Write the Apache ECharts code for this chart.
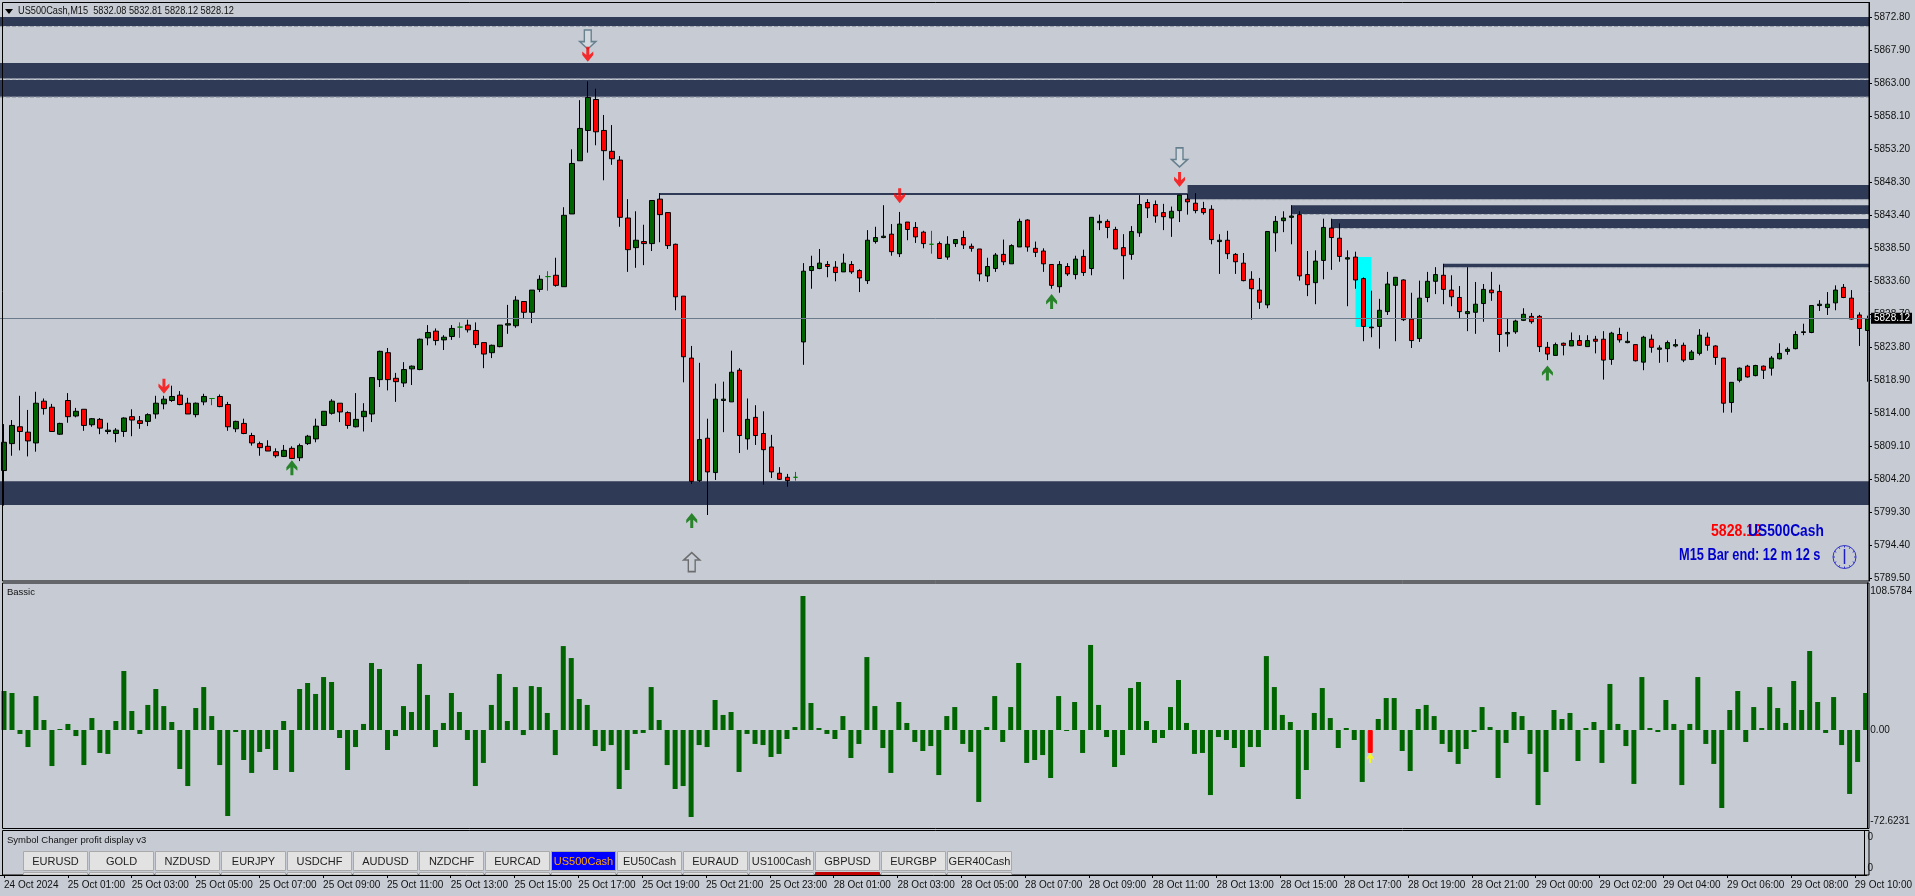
<!DOCTYPE html>
<html><head><meta charset="utf-8">
<style>html,body{margin:0;padding:0;background:#c7ccd4;overflow:hidden}#c{width:1915px;height:896px}</style>
<script src="https://cdn.jsdelivr.net/npm/echarts@6/dist/echarts.min.js"></script>
</head><body><div id="c"></div>
<script>
// [open, close, low, high] per 15-minute bar
const ohlc = [
[5805.5,5809.7,5800.3,5812.4],[5809.5,5812.2,5807.7,5813.0],[5812.0,5811.3,5808.5,5816.6],[5811.2,5809.9,5807.6,5814.5],
[5809.6,5815.5,5808.3,5817.2],[5815.8,5814.7,5813.8,5816.2],[5814.9,5811.3,5811.3,5815.4],[5810.9,5812.5,5810.8,5812.6],
[5815.9,5813.5,5812.6,5817.0],[5813.6,5814.3,5813.4,5814.8],[5814.6,5812.2,5811.4,5814.6],[5812.3,5813.2,5812.0,5813.3],
[5813.1,5811.8,5810.9,5813.3],[5811.3,5811.5,5810.9,5812.6],[5811.0,5811.5,5809.7,5811.8],[5811.3,5813.3,5810.5,5813.4],
[5813.5,5813.0,5810.6,5814.6],[5812.9,5812.5,5811.7,5813.6],[5812.8,5813.8,5812.1,5814.0],[5813.9,5815.5,5813.2,5816.6],
[5815.4,5816.1,5814.6,5816.6],[5815.9,5816.5,5815.7,5818.1],[5816.7,5815.3,5815.2,5817.3],[5815.5,5813.9,5813.9,5816.3],
[5813.8,5815.5,5813.4,5815.6],[5815.7,5816.5,5815.2,5816.9],[5816.2,5816.2,5815.2,5816.2],[5816.5,5815.0,5814.9,5816.8],
[5815.3,5812.0,5811.4,5815.7],[5811.7,5812.8,5811.2,5812.9],[5812.5,5811.0,5810.9,5813.2],[5810.7,5809.6,5809.2,5811.1],
[5809.5,5808.9,5807.7,5809.8],[5809.1,5808.4,5808.4,5810.0],[5808.3,5807.7,5807.4,5808.8],[5807.6,5808.5,5807.5,5809.3],
[5808.8,5807.3,5807.2,5809.1],[5807.4,5809.2,5806.9,5809.5],[5809.5,5810.6,5809.3,5810.8],[5810.2,5812.1,5809.7,5813.2],
[5812.2,5814.3,5812.1,5814.3],[5814.0,5815.8,5813.8,5816.1],[5815.5,5814.2,5812.7,5815.5],[5814.1,5812.2,5811.7,5814.3],
[5812.0,5813.1,5811.9,5817.0],[5813.5,5814.3,5811.3,5815.5],[5813.9,5819.3,5812.7,5819.3],[5819.0,5823.2,5817.9,5823.3],
[5823.0,5819.0,5817.4,5823.7],[5819.2,5818.7,5815.7,5820.0],[5818.5,5820.5,5817.9,5821.6],[5820.6,5821.0,5818.2,5821.1],
[5820.5,5825.0,5820.4,5825.1],[5825.2,5826.0,5824.1,5827.1],[5826.2,5824.8,5824.1,5826.6],[5824.9,5825.3,5823.4,5825.6],
[5825.4,5826.6,5824.9,5827.1],[5826.8,5826.8,5825.2,5827.5],[5827.1,5826.4,5826.0,5827.9],[5826.3,5824.2,5823.7,5827.5],
[5824.5,5822.8,5820.7,5824.5],[5823.0,5824.1,5822.2,5824.2],[5823.9,5827.1,5823.8,5827.1],[5827.1,5827.3,5825.8,5830.1],
[5827.0,5830.8,5826.7,5831.4],[5830.6,5829.0,5828.0,5830.6],[5829.0,5832.3,5827.4,5832.3],[5832.4,5833.9,5832.0,5834.5],
[5834.3,5834.3,5832.2,5835.1],[5834.5,5833.0,5832.8,5837.1],[5832.8,5843.4,5832.8,5844.6],[5843.6,5851.1,5843.6,5853.2],
[5851.5,5856.3,5851.5,5860.5],[5856.0,5860.9,5852.7,5863.3],[5860.6,5855.8,5853.8,5862.2],[5856.0,5853.0,5848.6,5858.3],
[5852.9,5851.8,5850.9,5856.8],[5851.6,5843.1,5841.7,5852.2],[5843.0,5838.3,5835.0,5845.8],[5838.6,5839.7,5835.6,5844.0],
[5839.5,5839.2,5836.0,5842.0],[5839.2,5845.6,5838.1,5845.6],[5845.8,5843.5,5839.4,5846.7],[5843.8,5838.9,5838.4,5843.8],
[5839.1,5831.3,5829.3,5839.2],[5831.4,5822.4,5818.6,5831.4],[5822.2,5803.9,5803.5,5824.0],[5804.0,5810.1,5803.8,5821.5],
[5810.3,5805.3,5798.9,5813.2],[5805.2,5816.1,5804.1,5818.4],[5815.9,5816.1,5811.2,5818.7],[5815.7,5820.1,5815.7,5823.3],
[5820.4,5810.7,5808.1,5820.7],[5810.2,5813.1,5808.6,5816.2],[5813.4,5810.7,5809.3,5815.2],[5811.0,5808.6,5803.4,5814.3],
[5809.0,5805.3,5804.4,5810.8],[5805.1,5804.2,5804.1,5806.0],[5804.5,5804.0,5803.1,5805.0],[5804.5,5804.5,5804.0,5805.3],
[5824.6,5835.1,5821.2,5836.3],[5835.2,5835.8,5832.5,5837.4],[5835.5,5836.3,5835.4,5838.4],[5836.1,5835.8,5834.2,5836.6],
[5835.7,5834.9,5833.6,5836.6],[5835.0,5836.3,5835.0,5837.7],[5836.1,5835.0,5834.7,5836.6],[5835.2,5834.1,5832.0,5835.4],
[5833.7,5839.7,5833.2,5841.2],[5839.5,5840.1,5839.2,5841.7],[5840.1,5840.3,5840.0,5844.9],[5840.6,5838.0,5837.4,5842.1],
[5837.7,5842.1,5837.2,5843.9],[5842.4,5841.3,5839.7,5842.4],[5841.6,5840.2,5839.3,5842.4],[5840.9,5839.2,5838.5,5841.1],
[5839.1,5839.1,5837.7,5841.1],[5839.2,5837.0,5837.0,5839.5],[5837.2,5839.1,5836.8,5840.3],[5839.2,5839.8,5838.7,5839.8],
[5840.1,5839.0,5838.4,5841.1],[5838.8,5838.5,5838.0,5839.2],[5838.4,5834.7,5833.6,5838.4],[5834.4,5835.8,5833.5,5837.1],
[5835.5,5837.5,5835.0,5837.8],[5837.6,5836.5,5836.0,5839.8],[5836.2,5838.9,5836.2,5839.1],[5838.7,5842.5,5838.7,5842.9],
[5842.7,5838.7,5838.0,5842.8],[5838.5,5837.9,5837.2,5839.5],[5838.1,5836.2,5835.0,5838.5],[5836.1,5833.0,5832.5,5836.1],
[5832.8,5836.1,5831.9,5836.6],[5835.8,5834.7,5834.4,5836.3],[5834.6,5836.9,5833.9,5837.4],[5837.3,5834.9,5834.4,5838.3],
[5835.5,5843.1,5834.5,5843.1],[5842.3,5842.5,5841.2,5843.5],[5842.5,5841.6,5840.0,5842.8],[5841.3,5838.4,5838.4,5841.7],
[5838.6,5837.4,5833.9,5840.6],[5837.6,5841.0,5836.8,5841.8],[5840.8,5845.0,5840.2,5846.4],[5845.3,5844.5,5843.0,5845.8],
[5845.0,5843.3,5842.3,5845.6],[5843.8,5843.2,5841.2,5845.1],[5843.0,5844.0,5840.2,5844.7],[5844.1,5846.4,5842.4,5846.4],
[5845.8,5845.4,5843.5,5846.6],[5845.2,5844.1,5843.7,5846.7],[5844.4,5843.8,5843.5,5845.4],[5844.3,5839.8,5839.1,5844.9],
[5839.5,5839.7,5834.7,5840.6],[5839.7,5837.7,5836.9,5841.1],[5837.6,5836.5,5834.7,5837.8],[5836.3,5833.7,5833.6,5837.8],
[5833.9,5832.5,5827.9,5835.1],[5832.3,5830.5,5829.5,5834.1],[5830.1,5841.0,5829.6,5841.0],[5840.8,5842.5,5838.0,5843.3],
[5842.6,5843.0,5840.9,5844.0],[5843.1,5843.3,5839.1,5844.9],[5843.5,5834.4,5833.7,5844.0],[5834.6,5833.1,5831.4,5838.1],
[5833.4,5836.6,5830.2,5838.2],[5836.7,5841.6,5833.9,5842.9],[5841.5,5840.1,5835.3,5842.9],[5840.0,5837.3,5836.5,5842.2],
[5836.9,5837.1,5829.9,5838.2],[5837.2,5833.8,5832.5,5838.0],[5834.0,5826.9,5824.7,5834.2],[5826.7,5826.8,5825.3,5832.2],
[5826.9,5829.3,5823.6,5831.0],[5829.1,5833.2,5828.6,5835.0],[5833.0,5834.2,5824.7,5834.2],[5833.8,5827.9,5827.7,5833.9],
[5828.0,5824.8,5823.7,5831.9],[5825.1,5831.1,5824.6,5833.7],[5831.2,5833.6,5830.5,5835.0],[5833.6,5834.6,5831.7,5835.7],
[5834.5,5832.4,5830.2,5836.2],[5832.3,5831.3,5829.9,5834.5],[5831.2,5829.1,5828.0,5832.9],[5828.8,5829.1,5826.2,5835.7],
[5829.0,5830.2,5825.8,5833.5],[5830.3,5832.4,5827.6,5833.2],[5832.3,5831.9,5830.7,5835.0],[5832.1,5825.7,5823.1,5833.1],
[5825.8,5826.0,5823.9,5828.0],[5826.1,5827.7,5825.8,5827.9],[5827.8,5828.7,5827.7,5829.6],[5828.4,5827.6,5827.3,5828.9],
[5828.4,5823.9,5823.1,5828.6],[5823.8,5822.8,5821.9,5824.6],[5822.6,5824.2,5822.6,5824.5],[5824.4,5824.1,5822.6,5824.5],
[5824.0,5824.8,5824.0,5826.0],[5824.8,5824.1,5824.0,5825.6],[5823.9,5824.8,5823.9,5825.6],[5825.0,5824.7,5822.9,5825.5],
[5825.0,5821.9,5819.0,5826.2],[5822.0,5825.9,5821.2,5826.1],[5825.7,5824.9,5824.5,5826.7],[5824.5,5824.7,5824.4,5826.1],
[5824.2,5821.8,5821.7,5824.2],[5821.6,5825.3,5820.4,5825.5],[5825.0,5823.8,5823.0,5825.7],[5823.5,5823.7,5821.5,5824.1],
[5823.6,5824.5,5821.6,5824.8],[5824.0,5824.2,5823.8,5825.0],[5824.1,5821.9,5821.6,5824.5],[5822.0,5823.1,5821.9,5823.4],
[5822.9,5825.6,5822.6,5826.5],[5825.3,5824.1,5823.3,5826.0],[5824.0,5822.3,5821.2,5824.1],[5822.2,5815.5,5814.1,5822.2],
[5815.6,5818.6,5814.1,5818.6],[5818.9,5820.7,5818.6,5820.8],[5821.0,5819.4,5819.3,5821.2],[5819.6,5821.1,5819.5,5821.2],
[5821.0,5820.4,5819.1,5821.1],[5820.7,5822.2,5819.6,5822.5],[5822.1,5822.9,5822.0,5824.4],[5823.2,5823.5,5822.7,5823.8],
[5823.6,5825.7,5823.5,5826.2],[5826.0,5826.1,5825.6,5827.3],[5826.0,5830.0,5825.9,5830.0],[5830.0,5830.2,5829.2,5830.8],
[5829.7,5830.2,5828.6,5832.0],[5830.4,5832.3,5829.3,5833.0],[5832.7,5831.2,5831.1,5833.2],[5831.1,5828.0,5827.9,5832.3],
[5828.6,5826.6,5824.0,5829.0],[5826.3,5828.0,5818.7,5828.5]
];
const crossBars = [26,57,68,99,116];
const histValues = [
31.6,30.0,-3.2,-13.8,27.5,8.1,-29.2,0.8,4.9,-4.9,-28.4,9.7,-18.6,-19.4,7.3,47.8,15.4,-3.2,20.3,33.2,19.4,6.5,-31.6,-45.4,17.8,34.8,11.3,-28.4,-69.7,-1.6,
-24.3,-34.8,-17.8,-15.4,-32.4,7.3,-34.0,33.2,38.1,29.2,42.9,38.9,-6.5,-32.4,-13.8,4.9,54.3,49.4,-16.2,-4.9,19.4,14.6,53.5,28.4,-13.8,5.7,30.0,14.6,-8.1,-45.4,
-26.7,20.3,45.4,7.3,34.8,-4.1,35.6,34.8,13.8,-20.3,68.0,58.3,25.1,20.3,-13.0,-17.0,-12.2,-47.8,-32.4,-3.2,
-2.4,34.8,8.1,-28.4,-47.8,-45.4,-70.5,-12.2,-13.8,24.3,12.2,14.6,-34.0,-3.2,-11.3,-12.2,-21.9,-19.4,-7.3,2.4,108.5,21.9,1.6,-3.2,-7.3,11.3,-22.7,-11.3,59.1,19.4,
-14.6,-34.8,22.7,5.7,-9.7,-17.0,-13.0,-36.5,11.3,18.6,-11.3,-17.8,-58.3,2.4,27.5,-9.7,18.6,54.3,-26.7,-24.3,-20.3,-38.9,27.5,-0.8,22.7,-18.6,68.9,20.3,-5.7,-30.0,
-20.3,34.0,38.9,7.3,-10.5,-6.5,18.6,40.5,5.7,-19.4,-18.6,-52.7,-5.7,-8.1,-14.6,-30.0,-13.8,-13.8,59.9,34.8,
12.2,6.5,-55.9,-32.4,13.8,34.0,9.7,-14.6,1.6,-8.1,-42.1,-18.6,8.9,25.9,25.9,-17.0,-33.2,17.0,20.3,11.3,-11.3,-17.8,-27.5,-15.4,-1.6,18.6,2.4,-38.9,-10.5,14.6,
11.3,-19.4,-60.8,-34.0,16.2,8.9,13.8,-25.1,1.6,6.5,-26.7,37.3,4.9,-13.0,-43.7,42.9,1.6,-1.6,24.3,4.9,-44.6,4.9,42.9,-11.3,-27.5,-63.2,16.2,31.6,-9.7,18.6,
1.6,34.8,17.8,5.7,39.7,16.2,64.0,22.7,-2.4,26.7,-12.2,-51.8,-25.9,30.0
];
const hotBar = 171;
const lastPrice = 5828.12;
const priceTicks = [5872.8,5867.9,5863.0,5858.1,5853.2,5848.3,5843.4,5838.5,5833.6,5828.7,5823.8,5818.9,5814.0,5809.1,5804.2,5799.3,5794.4,5789.5];
const timeLabels = ['24 Oct 2024','25 Oct 01:00','25 Oct 03:00','25 Oct 05:00','25 Oct 07:00','25 Oct 09:00','25 Oct 11:00','25 Oct 13:00','25 Oct 15:00','25 Oct 17:00','25 Oct 19:00','25 Oct 21:00','25 Oct 23:00','28 Oct 01:00','28 Oct 03:00','28 Oct 05:00','28 Oct 07:00','28 Oct 09:00','28 Oct 11:00','28 Oct 13:00','28 Oct 15:00','28 Oct 17:00','28 Oct 19:00','28 Oct 21:00','29 Oct 00:00','29 Oct 02:00','29 Oct 04:00','29 Oct 06:00','29 Oct 08:00','29 Oct 10:00'];
// [firstBar (-1 = from left edge), lastBar (-1 = to right edge), topPrice, bottomPrice, dashed lower edge]
const darkZones = [
[-1,-1,5872.85,5871.5,1],[-1,-1,5866.0,5863.7,1],[-1,-1,5863.5,5861.0,1],[-1,-1,5803.9,5800.4,0],
[148,-1,5847.9,5845.8,1],[161,-1,5844.9,5843.6,1],[166,-1,5842.85,5841.5,1],[180,-1,5836.2,5835.7,1],[82,148,5846.7,5846.4,0]
];
const cyanZones = [[169,171,5837.2,5826.8,0]];
const redDownArrows = [[73,5867.3],[20,5818.0],[112,5846.3],[147,5848.7]];
const greenUpArrows = [[36,5805.9],[131,5830.6],[86,5798.1],[193,5820.0]];
const hollowDownArrows = [[73,5869.5],[147,5852.0]];
const hollowUpArrows = [[86,5791.9]];
const yellowUpArrows = [[171,-22.7]];
const histTickValues = [112.8,0,-74.3];
const histTickLabels = ['108.5784','0.00','-72.6231'];
const lowerTickValues = [0.854,0.157];
const buttonLabels = ['EURUSD','GOLD','NZDUSD','EURJPY','USDCHF','AUDUSD','NZDCHF','EURCAD','US500Cash','EU50Cash','EURAUD','US100Cash','GBPUSD','EURGBP','GER40Cash'];
const activeButton = 'US500Cash', flaggedButton = 'GBPUSD';

const BG='#c7ccd4', NAVY='#2f3a56', GREEN='#006400', RED='#ff0000', FONT='"Liberation Sans", Arial, sans-serif';
const cats = ohlc.map((_,i)=>String(i));
const DOWN='path://M4,0L7,0L7,7L11,4L11,7L5.5,13L0,7L0,4L4,7Z';
const UP='path://M4,13L7,13L7,6L11,9L11,6L5.5,0L0,6L0,9L4,6Z';
const HDOWN='path://M4,0L10,0L10,11L14,11L7,18L0,11L4,11Z';
const HUP='path://M4,18L10,18L10,7L14,7L7,0L0,7L4,7Z';

function zoneSeries(rows,color){
  return {type:'custom',xAxisIndex:0,yAxisIndex:0,z:1,silent:true,data:rows.map(r=>[Math.max(r[0],0),r[2]]),
    encode:{x:0,y:1},
    renderItem(params,api){
      const r=rows[params.dataIndex], cs=params.coordSys;
      const x0=r[0]<0?cs.x:api.coord([r[0],r[2]])[0];
      const x1=r[1]<0?cs.x+cs.width:api.coord([r[1],r[2]])[0];
      const y0=api.coord([0,r[2]])[1], y1=api.coord([0,r[3]])[1];
      const children=[{type:'rect',shape:{x:x0,y:y0,width:x1-x0,height:y1-y0},style:{fill:color}}];
      if(r[4]) children.push({type:'line',shape:{x1:x0,y1:y1+0.5,x2:x1,y2:y1+0.5},style:{stroke:'#9aa0aa',lineWidth:1,lineDash:[4,2]}});
      return {type:'group',children};
    }};
}
function arrows(rows,sym,size,style,xi,yi){
  return {type:'scatter',xAxisIndex:xi||0,yAxisIndex:yi||0,z:6,silent:true,symbol:sym,symbolSize:size,symbolKeepAspect:false,itemStyle:style,data:rows,emphasis:{disabled:true}};
}
const axisTxt={color:'#111',fontFamily:FONT,fontSize:10};
const GRID_L=-0.7, GRID_W=1872;
const priceLabelValues=priceTicks.concat([lastPrice]);
const option={
  animation:false,backgroundColor:BG,
  grid:[
    {left:GRID_L,width:GRID_W,top:2.5,height:578.5},
    {left:GRID_L,width:GRID_W,top:583,height:245},
    {left:GRID_L,width:GRID_W,top:830.5,height:44.5}
  ],
  xAxis:[0,1,2].map(g=>({type:'category',gridIndex:g,data:cats,boundaryGap:true,z:10,
    show:g===2,
    axisLine:{lineStyle:{color:'#000',width:1}},
    axisTick:{show:true,alignWithLabel:true,interval:7,length:3,lineStyle:{color:'#000'}},
    axisLabel:{interval:7,align:'left',margin:5,color:'#111',fontFamily:FONT,fontSize:10,hideOverlap:false,
      formatter:(v)=>{const i=+v;return i%8===0?timeLabels[i/8]:'';}},
    splitLine:{show:false}})),
  yAxis:[
    {type:'value',gridIndex:0,position:'right',offset:-2.3,min:5789.1,max:5875.0,z:10,
     axisLine:{show:true,lineStyle:{color:'#000',width:1}},splitLine:{show:false},
     axisTick:{show:true,length:3,inside:false,customValues:priceTicks,lineStyle:{color:'#000'}},
     axisLabel:{...axisTxt,margin:5,customValues:priceLabelValues,
       formatter:v=>v===lastPrice?'{last|'+v.toFixed(2)+'}':v.toFixed(2),
       rich:{last:{color:'#fff',fontFamily:FONT,fontSize:10}}}},
    {type:'value',gridIndex:1,position:'right',offset:-2.3,min:-79.4,max:119.1,z:10,
     axisLine:{show:true,lineStyle:{color:'#000',width:1}},splitLine:{show:false},axisTick:{show:false},
     axisLabel:{...axisTxt,margin:3,customValues:histTickValues,formatter:v=>histTickLabels[histTickValues.indexOf(v)]}},
    {type:'value',gridIndex:2,position:'right',offset:-2.3,min:0,max:1,z:10,
     axisLine:{show:true,lineStyle:{color:'#000',width:1}},splitLine:{show:false},axisTick:{show:false},
     axisLabel:{...axisTxt,margin:3,customValues:lowerTickValues,formatter:()=>'0'}}
  ],
  series:[
    zoneSeries(darkZones,NAVY),
    zoneSeries(cyanZones,'#00ffff'),
    {type:'candlestick',xAxisIndex:0,yAxisIndex:0,z:2,silent:true,barWidth:5,
     itemStyle:{color:GREEN,color0:RED,borderColor:'#000',borderColor0:'#000',borderWidth:1},
     data:ohlc.map((v,i)=>crossBars.includes(i)?{value:v,itemStyle:{borderColor:'#008000',borderColor0:'#008000',color:'#008000',color0:'#008000'}}:v),
     markLine:{silent:true,symbol:'none',animation:false,z:5,precision:2,
       lineStyle:{color:'#6c7b8b',width:1,type:'solid'},label:{show:false},
       data:[{yAxis:lastPrice}]}},
    {type:'bar',xAxisIndex:1,yAxisIndex:1,z:2,silent:true,barWidth:5,
     data:histValues.map((v,i)=>i===hotBar?{value:v,itemStyle:{color:RED,borderColor:RED,borderWidth:1}}:{value:v,itemStyle:{color:GREEN}})},
    arrows(hollowDownArrows,HDOWN,[16,19],{color:'#d6dbe1',borderColor:'#4d6b7c',borderWidth:1.5}),
    arrows(hollowUpArrows,HUP,[16,19],{color:BG,borderColor:'#555',borderWidth:1.5}),
    arrows(redDownArrows,DOWN,[11,15],{color:RED}),
    arrows(greenUpArrows,UP,[11,15],{color:'#007000'}),
    arrows(yellowUpArrows,UP,[7,10],{color:'#ffff00'},1,1)
  ],
  graphic:{elements:buildGraphics()}
};
function buildGraphics(){
  const g=[];
  g.push({type:'rect',z:4,silent:true,shape:{x:1869,y:0,width:46,height:896},style:{fill:BG}});
  [[2.5,581],[583,828.5],[830.5,875]].forEach(([a,b])=>g.push({type:'rect',z:7,silent:true,shape:{x:2.5,y:a,width:1866.5,height:b-a},style:{fill:'none',stroke:'#000',lineWidth:1}}));
  g.push({type:'polygon',z:8,silent:true,shape:{points:[[5,9],[13,9],[9,14]]},style:{fill:'#000'}});
  const txt=(text,x,y,fs,fill,extra)=>g.push({type:'text',z:8,silent:true,x,y,style:Object.assign({text,fill,font:fs+'px '+FONT,textVerticalAlign:'middle'},extra||{})});
  g.push({type:'text',z:8,silent:true,x:18,y:11,scaleX:0.92,style:{text:'US500Cash,M15  5832.08 5832.81 5828.12 5828.12',fill:'#111',font:'10px '+FONT,textVerticalAlign:'middle'}});
  txt('Bassic',7,592.5,9.5,'#111');
  txt('Symbol Changer profit display v3',7,840,9.5,'#111');
  buttonLabels.forEach((b,k)=>{
    const x=23.5+66*k, on=b===activeButton;
    g.push({type:'rect',z:8,silent:true,shape:{x,y:872.5,width:64,height:2.5},style:{fill:b===flaggedButton?'#c00000':'#e2e2e2',stroke:b===flaggedButton?'#c00000':'#a9a9a9',lineWidth:1}});
    g.push({type:'rect',z:8,silent:true,shape:{x,y:851.5,width:64,height:19},style:{fill:on?'#0000ff':'#e2e2e2',stroke:'#a9a9a9',lineWidth:1}});
    g.push({type:'text',z:9,silent:true,x:x+32,y:861.5,style:{text:b,fill:on?'#ffa500':'#222',font:'11px '+FONT,textAlign:'center',textVerticalAlign:'middle'}});
  });
  const bold='bold 16.5px '+FONT;
  g.push({type:'text',z:8,silent:true,x:1711,y:531,scaleX:0.855,style:{text:'5828.12',fill:'#ff0000',font:bold,textVerticalAlign:'middle'}});
  g.push({type:'text',z:8,silent:true,x:1748,y:531,scaleX:0.835,style:{text:'US500Cash',fill:'#0000cc',font:bold,textVerticalAlign:'middle'}});
  g.push({type:'text',z:8,silent:true,x:1679,y:555,scaleX:0.775,style:{text:'M15 Bar end: 12 m 12 s',fill:'#0000cc',font:bold,textVerticalAlign:'middle'}});
  const cx=1844.5, cy=557, r=11.5;
  g.push({type:'circle',z:8,silent:true,shape:{cx,cy,r},style:{fill:'none',stroke:'#3030c8',lineWidth:1}});
  for(let k=0;k<12;k++){const a=k*Math.PI/6;g.push({type:'line',z:8,silent:true,shape:{x1:cx+Math.cos(a)*(r-2),y1:cy+Math.sin(a)*(r-2),x2:cx+Math.cos(a)*r,y2:cy+Math.sin(a)*r},style:{stroke:'#3030c8',lineWidth:1}});}
  g.push({type:'line',z:8,silent:true,shape:{x1:cx,y1:cy-8,x2:cx,y2:cy+7},style:{stroke:'#2020c0',lineWidth:1.5}});
  return g;
}
const chart=echarts.init(document.getElementById('c'),null,{renderer:'canvas'});
chart.setOption(option);
// black price tag sits behind the axis labels, at the last price on the axis's own scale
const tagY=chart.convertToPixel({yAxisIndex:0},lastPrice);
chart.setOption({graphic:{elements:[{id:'priceTag',type:'rect',z:5,silent:true,shape:{x:1871,y:tagY-5.5,width:41,height:11},style:{fill:'#000'}}]}});
</script></body></html>
